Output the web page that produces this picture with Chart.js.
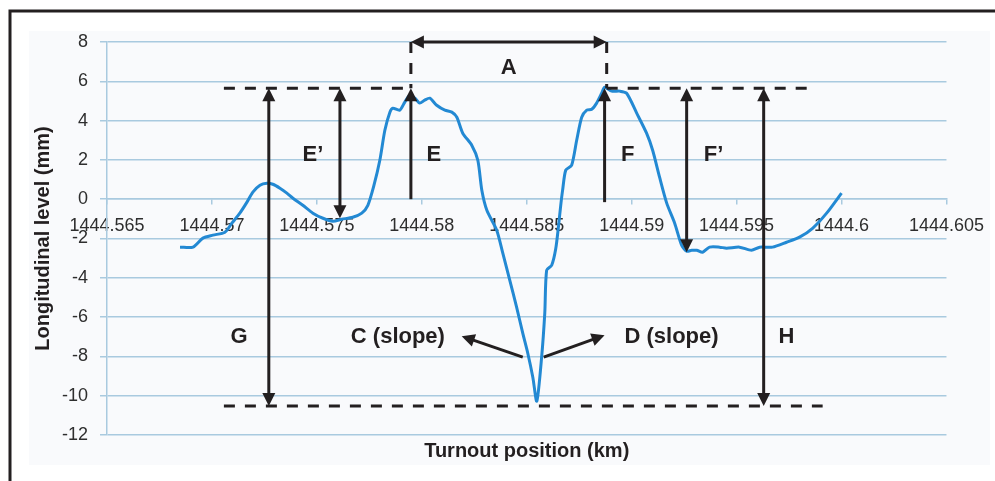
<!DOCTYPE html>
<html>
<head>
<meta charset="utf-8">
<script src="https://cdn.jsdelivr.net/npm/chart.js@4/dist/chart.umd.min.js"></script>
<style>
html,body{margin:0;padding:0;background:#fff;}
#wrap{width:995px;height:481px;position:relative;}
canvas{display:block;}
</style>
</head>
<body>
<div id="wrap"><canvas id="c" width="995" height="481"></canvas></div>
<script>
// ---- data ----
const positionKm = [
  1444.56848, 1444.56910, 1444.56957, 1444.57005, 1444.57062, 1444.57095, 1444.57133, 1444.57167,
  1444.57195, 1444.57229, 1444.57262, 1444.57290, 1444.57324, 1444.57357, 1444.57386, 1444.57433,
  1444.57481, 1444.57529, 1444.57576, 1444.57619, 1444.57671, 1444.57714, 1444.57743, 1444.57771,
  1444.57800, 1444.57824, 1444.57848, 1444.57862, 1444.57895, 1444.57919, 1444.57943, 1444.57967,
  1444.57990, 1444.58014, 1444.58038, 1444.58071, 1444.58110, 1444.58143, 1444.58167, 1444.58195,
  1444.58238, 1444.58267, 1444.58286, 1444.58310, 1444.58357, 1444.58386, 1444.58419, 1444.58452,
  1444.58481, 1444.58505, 1444.58529, 1444.58548, 1444.58571, 1444.58586, 1444.58595, 1444.58619,
  1444.58638, 1444.58652, 1444.58662, 1444.58671, 1444.58686, 1444.58714, 1444.58738, 1444.58762,
  1444.58786, 1444.58810, 1444.58833, 1444.58857, 1444.58871, 1444.58905, 1444.58943, 1444.58976,
  1444.59024, 1444.59071, 1444.59100, 1444.59133, 1444.59167, 1444.59205, 1444.59238, 1444.59262,
  1444.59286, 1444.59310, 1444.59338, 1444.59371, 1444.59419, 1444.59452, 1444.59514, 1444.59571,
  1444.59610, 1444.59671, 1444.59738, 1444.59800, 1444.59862, 1444.59929, 1444.60000
];
const levelMm = [
  -2.44, -2.44, -1.98, -1.83, -1.68, -1.22, -0.71, -0.15,
   0.36,  0.71,  0.81,  0.76,  0.56,  0.31,  0.05, -0.31,
  -0.71, -0.97, -1.12, -1.02, -0.92, -0.71, -0.31,  0.66,
   1.98,  3.51,  4.43,  4.63,  4.53,  4.94,  5.29,  5.14,
   4.89,  5.04,  5.14,  4.78,  4.53,  4.43,  4.17,  3.36,
   2.75,  1.98,  0.46, -0.56, -1.58, -2.75, -4.12, -5.50,
  -6.82, -7.84, -9.06, -10.28, -8.04, -5.80, -3.61, -3.36,
  -2.54, -1.32, -0.31,  0.46,  1.48,  1.73,  3.00,  4.17,
   4.53,  4.58,  4.89,  5.39,  5.70,  5.50,  5.50,  5.39,
   4.38,  3.36,  2.49,  1.12, -0.20, -1.22, -2.34, -2.65,
  -2.60, -2.60, -2.70, -2.44, -2.44, -2.49, -2.44, -2.60,
  -2.44, -2.44, -2.19, -1.93, -1.48, -0.71,  0.31
];
const xTickValues = [1444.565, 1444.57, 1444.575, 1444.58, 1444.585, 1444.59, 1444.595, 1444.6, 1444.605];
const yTickValues = [-12, -10, -8, -6, -4, -2, 0, 2, 4, 6, 8];
const xAxisTitle = 'Turnout position (km)';
const yAxisTitle = 'Longitudinal level (mm)';

// ---- annotation geometry, in data units ----
const peakLevel = 5.65;
const troughLevel = -10.53;
const spanA = [1444.57948, 1444.58881];
const dashedSegments = [
  [1444.57057, peakLevel, 1444.57948, peakLevel],
  [1444.58881, peakLevel, 1444.59862, peakLevel],
  [1444.57057, troughLevel, 1444.59910, troughLevel],
  [spanA[0], 8, spanA[0], peakLevel],
  [spanA[1], 8, spanA[1], peakLevel]
];
// [x1, y1, x2, y2, headAtStart, headAtEnd]
const arrowSegments = [
  [spanA[0], 8, spanA[1], 8, true, true],                 // A
  [1444.57271, peakLevel, 1444.57271, troughLevel, true, true], // G
  [1444.57610, peakLevel, 1444.57610, -0.97, true, true], // E'
  [1444.57948, 0, 1444.57948, peakLevel, false, true],    // E
  [1444.58871, -0.15, 1444.58871, peakLevel, false, true],// F
  [1444.59262, peakLevel, 1444.59262, -2.70, true, true], // F'
  [1444.59629, peakLevel, 1444.59629, troughLevel, true, true], // H
  [1444.58481, -8.04, 1444.58190, -6.97, false, true],    // C
  [1444.58581, -8.04, 1444.58871, -6.92, false, true]     // D
];
const labelItems = [
  ['A', 1444.58414, 6.67],
  ['E\u2019', 1444.57481, 2.24],
  ['E', 1444.58057, 2.24],
  ['F', 1444.58981, 2.24],
  ['F\u2019', 1444.59390, 2.24],
  ['G', 1444.57129, -7.02],
  ['C (slope)', 1444.57886, -7.02],
  ['D (slope)', 1444.59190, -7.02],
  ['H', 1444.59738, -7.02]
];

const INK = '#231f20';
const GRID = '#a9cadf';
const TICK_TEXT = '#2e2e2e';

const framePlugin = {
  id: 'frame',
  beforeDraw(chart) {
    const ctx = chart.ctx;
    ctx.save();
    ctx.fillStyle = '#ffffff';
    ctx.fillRect(0, 0, chart.width, chart.height);
    ctx.fillStyle = '#f9fafc';
    ctx.fillRect(29, 31, 961, 434);
    ctx.strokeStyle = INK;
    ctx.lineWidth = 3;
    ctx.beginPath();
    ctx.moveTo(10, chart.height);
    ctx.lineTo(10, 11);
    ctx.lineTo(chart.width, 11);
    ctx.stroke();
    ctx.restore();
  }
};

function head(ctx, tx, ty, fx, fy) {
  const ang = Math.atan2(ty - fy, tx - fx);
  const L = 13, W = 6.5;
  ctx.beginPath();
  ctx.moveTo(tx, ty);
  ctx.lineTo(tx - L * Math.cos(ang) + W * Math.sin(ang), ty - L * Math.sin(ang) - W * Math.cos(ang));
  ctx.lineTo(tx - L * Math.cos(ang) - W * Math.sin(ang), ty - L * Math.sin(ang) + W * Math.cos(ang));
  ctx.closePath();
  ctx.fill();
}

const annotationPlugin = {
  id: 'annot',
  afterDatasetsDraw(chart) {
    const ctx = chart.ctx;
    const xs = chart.scales.x, ys = chart.scales.y;
    const px = v => xs.getPixelForValue(v);
    const py = v => ys.getPixelForValue(v);
    ctx.save();
    ctx.strokeStyle = INK;
    ctx.fillStyle = INK;
    ctx.lineWidth = 3;
    ctx.setLineDash([11, 10]);
    dashedSegments.forEach(s => {
      ctx.beginPath();
      ctx.moveTo(px(s[0]), py(s[1]));
      ctx.lineTo(px(s[2]), py(s[3]));
      ctx.stroke();
    });
    ctx.setLineDash([]);
    arrowSegments.forEach(s => {
      const x1 = px(s[0]), y1 = py(s[1]), x2 = px(s[2]), y2 = py(s[3]);
      const len = Math.hypot(x2 - x1, y2 - y1);
      const ux = (x2 - x1) / len, uy = (y2 - y1) / len;
      const sx = s[4] ? x1 + ux * 10 : x1, sy = s[4] ? y1 + uy * 10 : y1;
      const ex = s[5] ? x2 - ux * 10 : x2, ey = s[5] ? y2 - uy * 10 : y2;
      ctx.lineWidth = 3;
      ctx.beginPath();
      ctx.moveTo(sx, sy);
      ctx.lineTo(ex, ey);
      ctx.stroke();
      if (s[4]) head(ctx, x1, y1, x2, y2);
      if (s[5]) head(ctx, x2, y2, x1, y1);
    });
    ctx.font = 'bold 22px "Liberation Sans", Arial, sans-serif';
    ctx.textAlign = 'center';
    ctx.textBaseline = 'middle';
    labelItems.forEach(l => ctx.fillText(l[0], px(l[1]), py(l[2])));
    ctx.restore();
  }
};

const fmtX = v => String(+Number(v).toFixed(3));

new Chart(document.getElementById('c'), {
  type: 'line',
  data: {
    datasets: [{
      data: positionKm.map((x, i) => ({ x: x, y: levelMm[i] })),
      borderColor: '#2389d3',
      borderWidth: 3,
      pointRadius: 0,
      tension: 0.25,
      fill: false
    }]
  },
  options: {
    responsive: false,
    animation: false,
    devicePixelRatio: 1,
    layout: { padding: { left: 27, top: 42, right: 48, bottom: 14 } },
    plugins: {
      legend: { display: false },
      tooltip: { enabled: false },
      title: {
        display: true,
        position: 'bottom',
        fullSize: false,
        text: xAxisTitle,
        color: INK,
        padding: { top: 4, bottom: 4 },
        font: { family: '"Liberation Sans", Arial, sans-serif', size: 20, weight: 'bold' }
      }
    },
    scales: {
      x: {
        type: 'linear',
        position: { y: 0 },
        min: 1444.565,
        max: 1444.605,
        afterBuildTicks: s => { s.ticks = xTickValues.map(v => ({ value: v })); },
        grid: { drawOnChartArea: false, drawTicks: true, tickLength: 5, color: GRID, lineWidth: 1.5 },
        border: { display: true, color: GRID, width: 1.5 },
        ticks: {
          padding: 11,
          maxRotation: 0,
          autoSkip: false,
          color: TICK_TEXT,
          font: { family: '"Liberation Sans", Arial, sans-serif', size: 18 },
          callback: v => fmtX(v)
        }
      },
      y: {
        type: 'linear',
        position: 'left',
        min: -12,
        max: 8,
        afterBuildTicks: s => { s.ticks = yTickValues.map(v => ({ value: v })); },
        afterFit: s => { s.width = 80; },
        grid: { color: GRID, lineWidth: 1.5, drawTicks: true, tickLength: 7 },
        border: { display: true, color: GRID, width: 1.5 },
        ticks: {
          padding: 12,
          color: TICK_TEXT,
          font: { family: '"Liberation Sans", Arial, sans-serif', size: 18 },
          callback: v => String(v)
        },
        title: {
          display: true,
          text: yAxisTitle,
          color: INK,
          padding: { top: 4, bottom: 4 },
          font: { family: '"Liberation Sans", Arial, sans-serif', size: 20, weight: 'bold' }
        }
      }
    }
  },
  plugins: [framePlugin, annotationPlugin]
});
</script>
</body>
</html>
